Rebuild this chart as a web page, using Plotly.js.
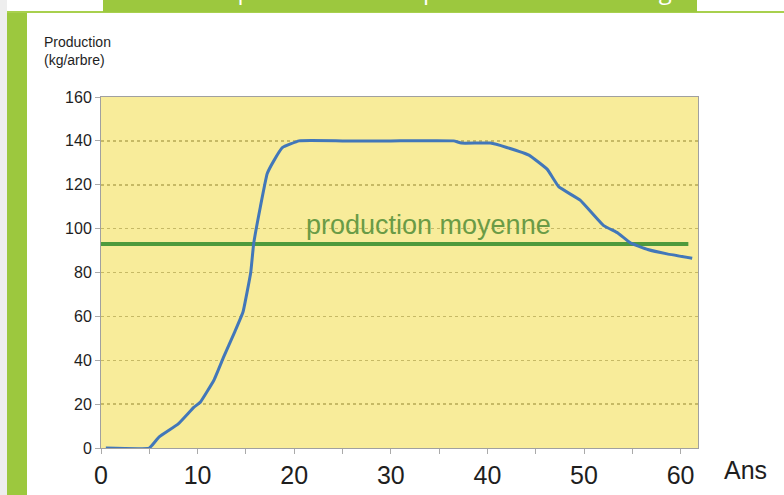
<!DOCTYPE html>
<html>
<head>
<meta charset="utf-8">
<script src="https://cdn.plot.ly/plotly-3.0.1.min.js"></script>
<style>
  html, body { margin: 0; padding: 0; width: 784px; height: 495px; overflow: hidden; background: #ffffff; }
  #strip { position: absolute; left: 0; top: 0; width: 7px; height: 495px; background: #eeeeee; }
  #bar { position: absolute; left: 7px; top: 11px; width: 20px; height: 484px; background: #9cc83e; }
  #topline { position: absolute; left: 7px; top: 11px; width: 777px; height: 2px; background: #a8d04e; }
  #banner { position: absolute; left: 103px; top: 0; width: 594px; height: 12px; background: #9cc83e; overflow: hidden; }
  #banner span { position: absolute; left: 0; width: 594px; text-align: center; bottom: 10px; color: #ffffff; font-family: "Open Sans", sans-serif; font-size: 24px; line-height: 24px; white-space: nowrap; }
  #chart { position: absolute; left: 0; top: 0; width: 784px; height: 495px; }
</style>
</head>
<body>
<div id="strip"></div>
<div id="bar"></div>
<div id="topline"></div>
<div id="banner"><span>Courbe de production d'un pommier selon son âge</span></div>
<div id="chart"></div>
<script>
// Data
const years = [0.5, 5, 6, 8, 9.6, 10.3, 11.7, 12.7, 13.8, 14.7, 15.5, 15.8, 16.5, 17.2, 17.9, 18.8, 20.5, 25, 30, 36.5, 37.3, 40.3, 42, 44.3, 46.2, 47.4, 49.6, 52, 53.5, 54.8, 56.6, 58.6, 61.2];
const production = [0, 0, 5, 11, 18.5, 21, 31, 41.5, 52.5, 62, 80, 93, 110, 125, 131, 137, 140, 140, 140, 140, 139, 139, 137, 133.5, 127, 119, 113, 101.5, 98, 93.5, 90.5, 88.5, 86.5];
const meanYears = [0, 60.8];
const meanValue = [93, 93];
const meanLabel = "production moyenne";
const xTickVals = [0, 10, 20, 30, 40, 50, 60];
const yTickVals = [0, 20, 40, 60, 80, 100, 120, 140, 160];

const traces = [
  {
    x: meanYears, y: meanValue, type: 'scatter', mode: 'lines',
    line: { color: '#4e9a3c', width: 4 }, hoverinfo: 'skip', showlegend: false
  },
  {
    x: years, y: production, type: 'scatter', mode: 'lines',
    line: { color: '#4277b9', width: 3, shape: 'spline', smoothing: 0.3 }, showlegend: false
  }
];

const layout = {
  width: 784, height: 495,
  margin: { l: 101, r: 86, t: 97, b: 47, pad: 0 },
  paper_bgcolor: 'rgba(0,0,0,0)',
  plot_bgcolor: '#f8ec9a',
  font: { family: 'Liberation Sans, Arial, sans-serif', color: '#1e1e1e' },
  xaxis: {
    range: [0, 61.8], tickvals: xTickVals, ticktext: xTickVals.map(String),
    ticks: 'outside', ticklen: 5, tickcolor: '#aaaaaa', tickwidth: 1,
    minor: { dtick: 5, tick0: 0, ticks: 'outside', ticklen: 5, tickcolor: '#aaaaaa', showgrid: false },
    showgrid: false, zeroline: false,
    showline: true, linecolor: '#a0a0a0', linewidth: 1, mirror: true,
    tickfont: { size: 25, color: '#1e1e1e' }
  },
  yaxis: {
    range: [0, 160], tickvals: yTickVals, ticktext: yTickVals.map(String),
    ticks: 'outside', ticklen: 5, tickcolor: '#aaaaaa',
    showgrid: true, gridcolor: '#c6b965', griddash: 'dot', gridwidth: 1.5,
    zeroline: false,
    showline: true, linecolor: '#a0a0a0', linewidth: 1, mirror: true,
    tickfont: { size: 16, color: '#1e1e1e' }
  },
  annotations: [
    {
      text: 'Production<br>(kg/arbre)', xref: 'paper', yref: 'paper',
      x: -0.098, y: 1.185, xanchor: 'left', yanchor: 'top', align: 'left', showarrow: false,
      font: { size: 14, color: '#1e1e1e' }
    },
    {
      text: 'Ans', xref: 'paper', yref: 'paper',
      x: 1.079, y: -0.063, xanchor: 'center', yanchor: 'middle', showarrow: false,
      font: { size: 25, color: '#1e1e1e' }
    },
    {
      text: meanLabel, xref: 'x', yref: 'y',
      x: 33.9, y: 101.5, xanchor: 'center', yanchor: 'middle', showarrow: false,
      font: { size: 27, color: '#6a9b46' }
    }
  ]
};

Plotly.newPlot('chart', traces, layout, { displayModeBar: false, staticPlot: true });
</script>
</body>
</html>
